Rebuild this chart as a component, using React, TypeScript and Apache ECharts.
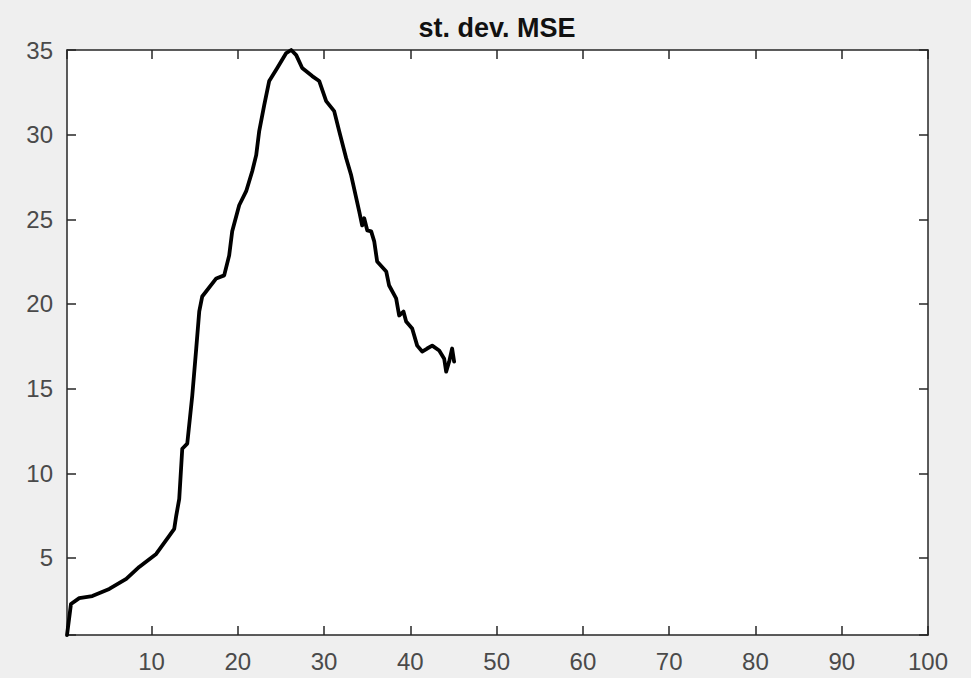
import React, { useEffect, useRef } from "react";
import * as echarts from "echarts";

const xValues: number[] = [
  0.2, 0.66, 1.62, 3.13, 5.1, 7.07, 8.57, 10.54, 12.05, 12.63, 12.86, 13.21,
  13.56, 14.14, 14.72, 15.18, 15.53, 15.87, 17.5, 18.42, 19.0, 19.35, 20.16,
  20.97, 21.67, 22.13, 22.48, 23.06, 23.64, 24.57, 25.61, 26.19, 26.77, 27.46,
  28.62, 29.43, 30.24, 31.17, 31.75, 32.56, 33.14, 34.07, 34.41, 34.65, 35.0,
  35.46, 35.81, 36.15, 37.2, 37.54, 38.35, 38.7, 39.2, 39.51, 40.21, 40.79,
  41.37, 41.95, 42.53, 43.34, 43.92, 44.15, 44.5, 44.84, 45.07,
];
const yValues: number[] = [
  0.45, 2.28, 2.63, 2.75, 3.17, 3.76, 4.47, 5.24, 6.3, 6.72, 7.49, 8.49,
  11.45, 11.75, 14.59, 17.37, 19.56, 20.44, 21.51, 21.69, 22.87, 24.29, 25.83,
  26.66, 27.84, 28.79, 30.21, 31.75, 33.17, 33.94, 34.82, 35.0, 34.7, 33.94,
  33.46, 33.17, 31.98, 31.39, 30.21, 28.61, 27.6, 25.47, 24.64, 25.06, 24.35,
  24.29, 23.7, 22.51, 21.92, 21.09, 20.33, 19.32, 19.55, 18.96, 18.55, 17.54,
  17.19, 17.37, 17.54, 17.25, 16.77, 16.0, 16.6, 17.37, 16.6,
];
const xMin = 0.2;
const xMax = 100;
const yMin = 0.45;
const yMax = 35;
const titleText = "st. dev. MSE";

export default function App() {
  const ref = useRef<HTMLDivElement>(null);
  useEffect(() => {
    document.body.style.margin = "0";
    if (!ref.current) return;
    const chart = echarts.init(ref.current, undefined, { renderer: "svg" });
    const font = "'Liberation Sans', Arial, Helvetica, sans-serif";
    const axisColor = "#262626";
    const labelColor = "#4a4a4a";
    const xFmt = (v: number) => (Math.abs(v % 10) < 1e-6 ? String(v) : "");
    const yFmt = (v: number) => (Math.abs(v % 5) < 1e-6 ? String(v) : "");
    const data = xValues.map((x, i) => [x, yValues[i]]);
    const commonX = {
      type: "value",
      min: xMin,
      max: xMax,
      splitNumber: 10,
      splitLine: { show: false },
      axisLine: { show: true, onZero: false, lineStyle: { color: axisColor, width: 1.5 } },
      axisTick: { show: true, inside: true, length: 9, lineStyle: { color: axisColor, width: 1.5 } },
    };
    const commonY = {
      type: "value",
      min: yMin,
      max: yMax,
      splitNumber: 7,
      splitLine: { show: false },
      axisLine: { show: true, onZero: false, lineStyle: { color: axisColor, width: 1.5 } },
      axisTick: { show: true, inside: true, length: 9, lineStyle: { color: axisColor, width: 1.5 } },
    };
    chart.setOption({
      animation: false,
      backgroundColor: "#efefef",
      grid: {
        left: 67,
        right: 43,
        top: 50,
        bottom: 43,
        show: true,
        backgroundColor: "#ffffff",
        borderWidth: 0,
        containLabel: false,
      },
      xAxis: [
        {
          ...commonX,
          position: "bottom",
          axisLabel: {
            show: true,
            formatter: xFmt,
            color: labelColor,
            fontSize: 24,
            fontFamily: font,
            margin: 14,
            showMinLabel: true,
            showMaxLabel: true,
          },
        },
        { ...commonX, position: "top", axisLabel: { show: false } },
      ],
      yAxis: [
        {
          ...commonY,
          position: "left",
          axisLabel: {
            show: true,
            formatter: yFmt,
            color: labelColor,
            fontSize: 24,
            fontFamily: font,
            margin: 14,
            showMinLabel: true,
            showMaxLabel: true,
          },
        },
        { ...commonY, position: "right", axisLabel: { show: false } },
      ],
      graphic: [
        {
          type: "text",
          x: 497,
          y: 28,
          style: {
            text: titleText,
            fill: "#111111",
            font: `bold 27px ${font}`,
            textAlign: "center",
            textVerticalAlign: "middle",
          },
        },
      ],
      series: [
        {
          type: "line",
          xAxisIndex: 0,
          yAxisIndex: 0,
          data,
          showSymbol: false,
          symbol: "none",
          lineStyle: { color: "#000000", width: 3.8, join: "round", cap: "round" },
          clip: true,
        },
      ],
    });
    return () => chart.dispose();
  }, []);
  return <div ref={ref} style={{ width: 971, height: 678 }} />;
}
